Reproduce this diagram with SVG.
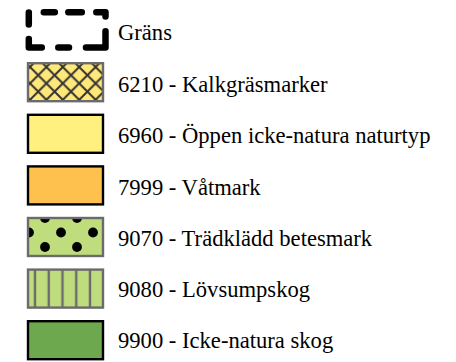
<svg xmlns="http://www.w3.org/2000/svg" width="456" height="362" viewBox="0 0 456 362">
  <style>
    text { font-family: 'Liberation Serif', 'Times New Roman', Times, serif; font-size: 22.6px; fill: #000; }
    .sw { stroke-width: 2.4; }
    .gray { stroke: #6b6b6b; }
    .blk { stroke: #000; }
    .border { fill: none; stroke: #000; stroke-width: 6.5; stroke-linecap: round; stroke-linejoin: round; }
  </style>
  <defs>
    <!-- diagonal crosshatch for calcareous grassland -->
    <pattern id="hatch" patternUnits="userSpaceOnUse" x="30" y="67" width="16.4" height="16.4">
      <rect width="16.4" height="16.4" fill="#ffe878"/>
      <path d="M-1,-1 L17.4,17.4 M17.4,-1 L-1,17.4 M-1,15.4 L1,17.4 M15.4,-1 L17.4,1 M15.4,17.4 L17.4,15.4 M-1,1 L1,-1" stroke="#333" stroke-width="2"/>
    </pattern>
    <!-- staggered dots for wooded pasture -->
    <pattern id="dots" patternUnits="userSpaceOnUse" x="45" y="218" width="32" height="29">
      <rect width="32" height="29" fill="#bfdd7d"/>
      <circle cx="0" cy="0" r="4.9" fill="#000"/>
      <circle cx="32" cy="0" r="4.9" fill="#000"/>
      <circle cx="0" cy="29" r="4.9" fill="#000"/>
      <circle cx="32" cy="29" r="4.9" fill="#000"/>
      <circle cx="16" cy="14.5" r="4.9" fill="#000"/>
    </pattern>
    <!-- vertical stripes for deciduous swamp forest -->
    <pattern id="stripes" patternUnits="userSpaceOnUse" x="28.2" y="0" width="13.75" height="20">
      <rect width="13.75" height="20" fill="#bfdd7d"/>
      <rect x="5.6" y="0" width="2.4" height="20" fill="#6b6b6b"/>
    </pattern>
  </defs>

  <!-- boundary -->
  <g id="grans">
    <path class="border" d="M28.8,12.5 L28.8,24.5 M43.8,12.3 L54.8,12.3 M68.3,12.3 L81.8,12.3 M96.3,12.3 L105.5,12.3 L105.5,16.5 M105.5,31.3 L105.5,47.5 L86,47.5 M69,47.5 L58.3,47.5 M41.8,47.5 L28.8,47.5 L28.8,39"/>
    <text x="118" y="40" font-family="Liberation Serif, serif">Gräns</text>
  </g>

  <g id="n6210">
    <rect class="sw gray" x="28" y="63.2" width="75" height="38" fill="url(#hatch)"/>
    <text x="118" y="91.7" font-family="Liberation Serif, serif">6210 - Kalkgräsmarker</text>
  </g>

  <g id="n6960">
    <rect class="sw blk" x="28" y="114.8" width="75" height="38" fill="#fff080"/>
    <text x="118" y="143.2" font-family="Liberation Serif, serif">6960 - Öppen icke-natura naturtyp</text>
  </g>

  <g id="n7999">
    <rect class="sw blk" x="28" y="166.4" width="75" height="38" fill="#ffc14d"/>
    <text x="118" y="194.6" font-family="Liberation Serif, serif">7999 - Våtmark</text>
  </g>

  <g id="n9070">
    <rect class="sw gray" x="28" y="218" width="75" height="38" fill="url(#dots)"/>
    <text x="118" y="245.6" font-family="Liberation Serif, serif">9070 - Trädklädd betesmark</text>
  </g>

  <g id="n9080">
    <rect class="sw gray" x="28" y="269.6" width="75" height="38" fill="url(#stripes)"/>
    <text x="118" y="297" font-family="Liberation Serif, serif">9080 - Lövsumpskog</text>
  </g>

  <g id="n9900">
    <rect class="sw blk" x="28" y="321.2" width="75" height="38" fill="#6ea84e"/>
    <text x="118" y="347.8" font-family="Liberation Serif, serif">9900 - Icke-natura skog</text>
  </g>
</svg>
